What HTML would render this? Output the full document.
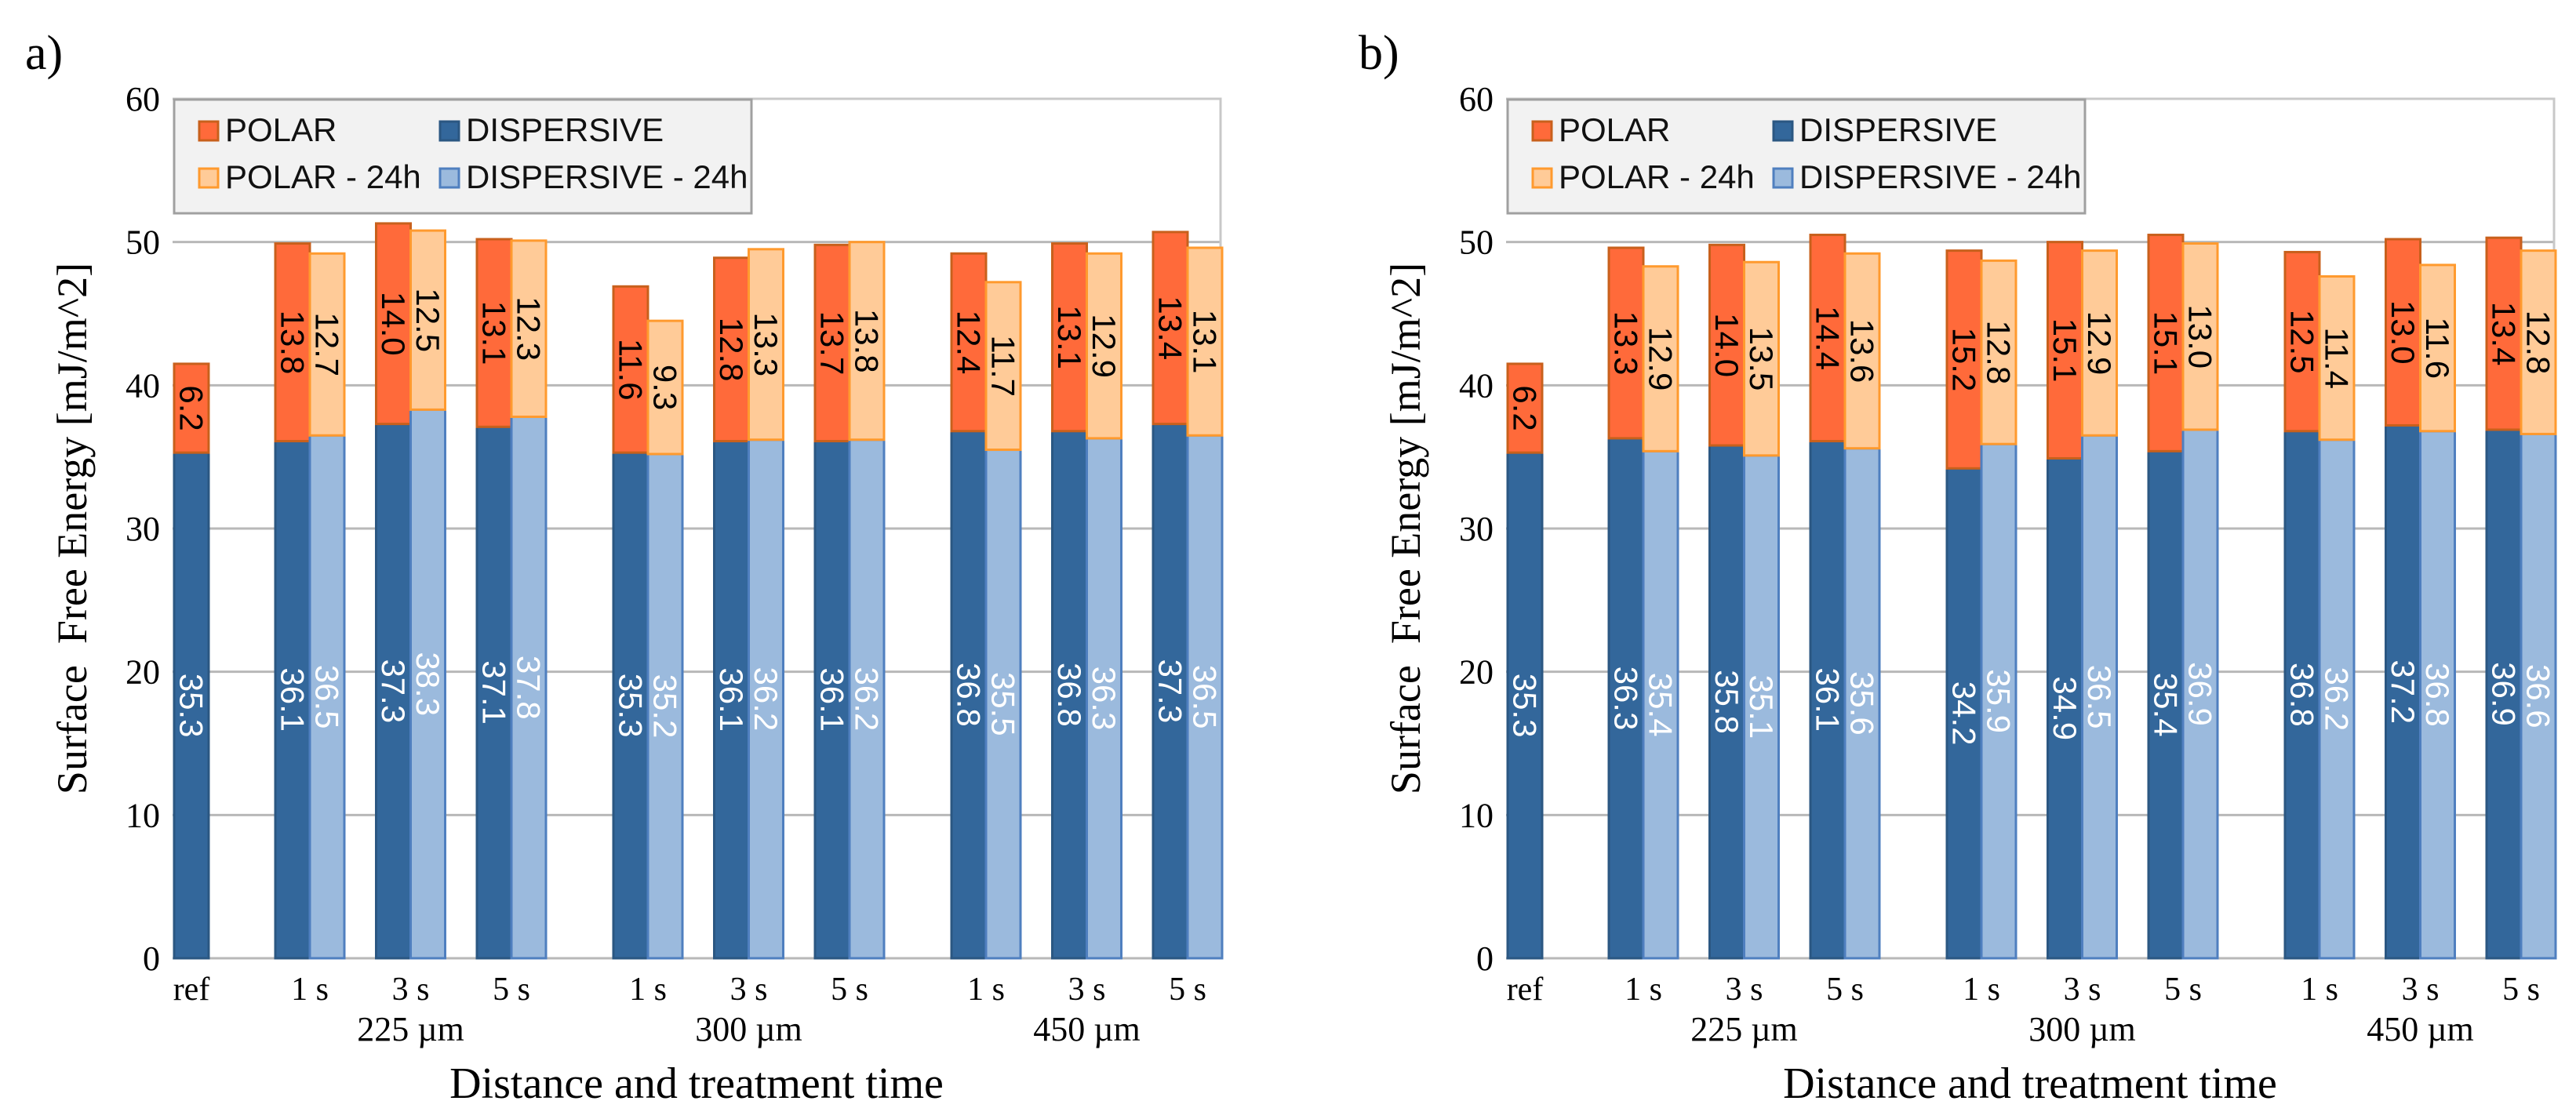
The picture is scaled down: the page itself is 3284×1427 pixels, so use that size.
<!DOCTYPE html>
<html><head><meta charset="utf-8">
<style>
html,body{margin:0;padding:0;background:#fff;}
svg{display:block;}
</style></head>
<body>
<svg id="fig" xmlns="http://www.w3.org/2000/svg" width="3284" height="1427" viewBox="0 0 3284 1427"></svg>
<script>
// ---- data ----
const timeLabels = ["1 s","3 s","5 s"];
const groupLabels = ["225 µm","300 µm","450 µm"];
const yTicks = [0,10,20,30,40,50,60];
const aRefDisp = 35.3;
const aRefPolar = 6.2;
const aDisp = [36.1,37.3,37.1, 35.3,36.1,36.1, 36.8,36.8,37.3];
const aDisp24 = [36.5,38.3,37.8, 35.2,36.2,36.2, 35.5,36.3,36.5];
const aPolar = [13.8,14.0,13.1, 11.6,12.8,13.7, 12.4,13.1,13.4];
const aPolar24 = [12.7,12.5,12.3, 9.3,13.3,13.8, 11.7,12.9,13.1];
const bRefDisp = 35.3;
const bRefPolar = 6.2;
const bDisp = [36.3,35.8,36.1, 34.2,34.9,35.4, 36.8,37.2,36.9];
const bDisp24 = [35.4,35.1,35.6, 35.9,36.5,36.9, 36.2,36.8,36.6];
const bPolar = [13.3,14.0,14.4, 15.2,15.1,15.1, 12.5,13.0,13.4];
const bPolar24 = [12.9,13.5,13.6, 12.8,12.9,13.0, 11.4,11.6,12.8];

const NS = "http://www.w3.org/2000/svg";
const svg = document.getElementById('fig');
const C = {polar:"#ff6a3a", polarB:"#c8601c", polar24:"#ffcb98", polar24B:"#ff9a2e",
           disp:"#33679b", dispB:"#2b5782", disp24:"#9bbadd", disp24B:"#4f7fbf"};
function mk(tag, attrs, parent){
  const e = document.createElementNS(NS, tag);
  for (const k in attrs) e.setAttribute(k, attrs[k]);
  (parent||svg).appendChild(e);
  return e;
}
const Y0 = 1222, Y60 = 126;
function yS(v){ return Y0 - (v/60)*(Y0-Y60); }

function panel(L, letter, refD, refP, D, D24, P, P24){
  const R = L + 1336;
  const g = mk('g', {});
  
  
  const BW = 44;
  function barStart(i){ const grp = Math.floor(i/3), t = i%3; return L + 131 + grp*431 + t*128.5; }
  // panel letter
  const pl = mk('text', {x: L-188, y: 88, 'font-family':'"Liberation Serif", serif', 'font-size':62, fill:'#000'}, g);
  pl.textContent = letter + ')';
  
  
  // gridlines + ticks
  yTicks.forEach(v => {
    const y = yS(v);
    const ln = mk('line', {x1:L, x2:R, y1:y, y2:y, stroke:'#b8b8b8', 'stroke-width':3}, g);
    
    
    const t = mk('text', {x:L-16, y:y+15, 'text-anchor':'end', 'font-family':'"Liberation Serif", serif', 'font-size':44, fill:'#000'}, g);
    t.textContent = v;
    
    
  });
  const fr = mk('path', {d:`M${L} ${Y60} H${R} V${Y0}`, fill:'none', stroke:'#c8c8c8', 'stroke-width':3}, g);
  
  
  // y title
  const cy = (Y0+Y60)/2;
  const yt = mk('text', {x:0, y:0, transform:`translate(${L-110},${cy}) rotate(-90)`, 'text-anchor':'middle', 'font-family':'"Liberation Serif", serif', 'font-size':54, fill:'#000'}, g);
  yt.textContent = 'Surface  Free Energy [mJ/m^2]';
  yt.setAttribute('xml:space','preserve');
  yt.style.whiteSpace = 'pre';
  
  

  function seg(x, v0, v1, fill, stroke, name){
    const r = mk('rect', {x:x, y:yS(v1), width:BW, height:yS(v0)-yS(v1), fill:fill, stroke:stroke, 'stroke-width':3}, g);
    
    
  }
  function lab(x, v0, v1, color){
    const cx = x + BW/2, cyy = (yS(v0)+yS(v1))/2;
    const t = mk('text', {x:0, y:0, transform:`translate(${cx},${cyy}) rotate(90)`, 'text-anchor':'middle', 'dominant-baseline':'central', 'font-family':'"Liberation Sans", sans-serif', 'font-size':42, fill:color}, g);
    t.textContent = (v1-v0).toFixed(1);
    
    
  }
  // ref bar
  const rx = L + 2;
  seg(rx, 0, refD, C.disp, C.dispB, 'bar-ref-dispersive');
  seg(rx, refD, refD+refP, C.polar, C.polarB, 'bar-ref-polar');
  lab(rx, 0, refD, '#fff');
  lab(rx, refD, refD+refP, '#000');
  const rl = mk('text', {x:rx+BW/2, y:1275, 'text-anchor':'middle', 'font-family':'"Liberation Serif", serif', 'font-size':42, fill:'#000'}, g);
  rl.textContent = 'ref';
  
  
  for (let i=0;i<D.length;i++){
    const x1 = barStart(i), x2 = x1 + BW;
    seg(x1, 0, D[i], C.disp, C.dispB, 'bar-dispersive');
    seg(x1, D[i], D[i]+P[i], C.polar, C.polarB, 'bar-polar');
    seg(x2, 0, D24[i], C.disp24, C.disp24B, 'bar-dispersive-24h');
    seg(x2, D24[i], D24[i]+P24[i], C.polar24, C.polar24B, 'bar-polar-24h');
    lab(x1, 0, D[i], '#fff');
    lab(x1, D[i], D[i]+P[i], '#000');
    lab(x2, 0, D24[i], '#fff');
    lab(x2, D24[i], D24[i]+P24[i], '#000');
    const tl = mk('text', {x:x2, y:1275, 'text-anchor':'middle', 'font-family':'"Liberation Serif", serif', 'font-size':42, fill:'#000'}, g);
    tl.textContent = timeLabels[i%3];
    
    
    if (i%3===1){
      const gl = mk('text', {x:x2, y:1327, 'text-anchor':'middle', 'font-family':'"Liberation Serif", serif', 'font-size':44, fill:'#000'}, g);
      gl.textContent = groupLabels[Math.floor(i/3)];
      
      
    }
  }
  const xt = mk('text', {x:(L+R)/2, y:1400, 'text-anchor':'middle', 'font-family':'"Liberation Serif", serif', 'font-size':56, fill:'#000'}, g);
  xt.textContent = 'Distance and treatment time';
  
  
  // legend
  const lg = mk('g', {}, g);
  
  
  mk('rect', {x:L+2, y:127, width:736, height:145, fill:'#f2f2f2', stroke:'#a0a0a0', 'stroke-width':3}, lg);
  const items = [
    ['POLAR', C.polar, C.polarB, 34, 155],
    ['DISPERSIVE', C.disp, C.dispB, 341, 155],
    ['POLAR - 24h', C.polar24, C.polar24B, 34, 215],
    ['DISPERSIVE - 24h', C.disp24, C.disp24B, 341, 215]
  ];
  items.forEach(it => {
    const e = mk('g', {}, lg);
    
    
    mk('rect', {x:L+it[3], y:it[4], width:24, height:24, fill:it[1], stroke:it[2], 'stroke-width':3}, e);
    const t = mk('text', {x:L+it[3]+33, y:it[4]+25, 'font-family':'"Liberation Sans", sans-serif', 'font-size':42, fill:'#111', textLength:null}, e);
    t.removeAttribute('textLength');
    t.textContent = it[0];
  });
}
panel(220, 'a', aRefDisp, aRefPolar, aDisp, aDisp24, aPolar, aPolar24);
panel(1920, 'b', bRefDisp, bRefPolar, bDisp, bDisp24, bPolar, bPolar24);
</script>
</body></html>
